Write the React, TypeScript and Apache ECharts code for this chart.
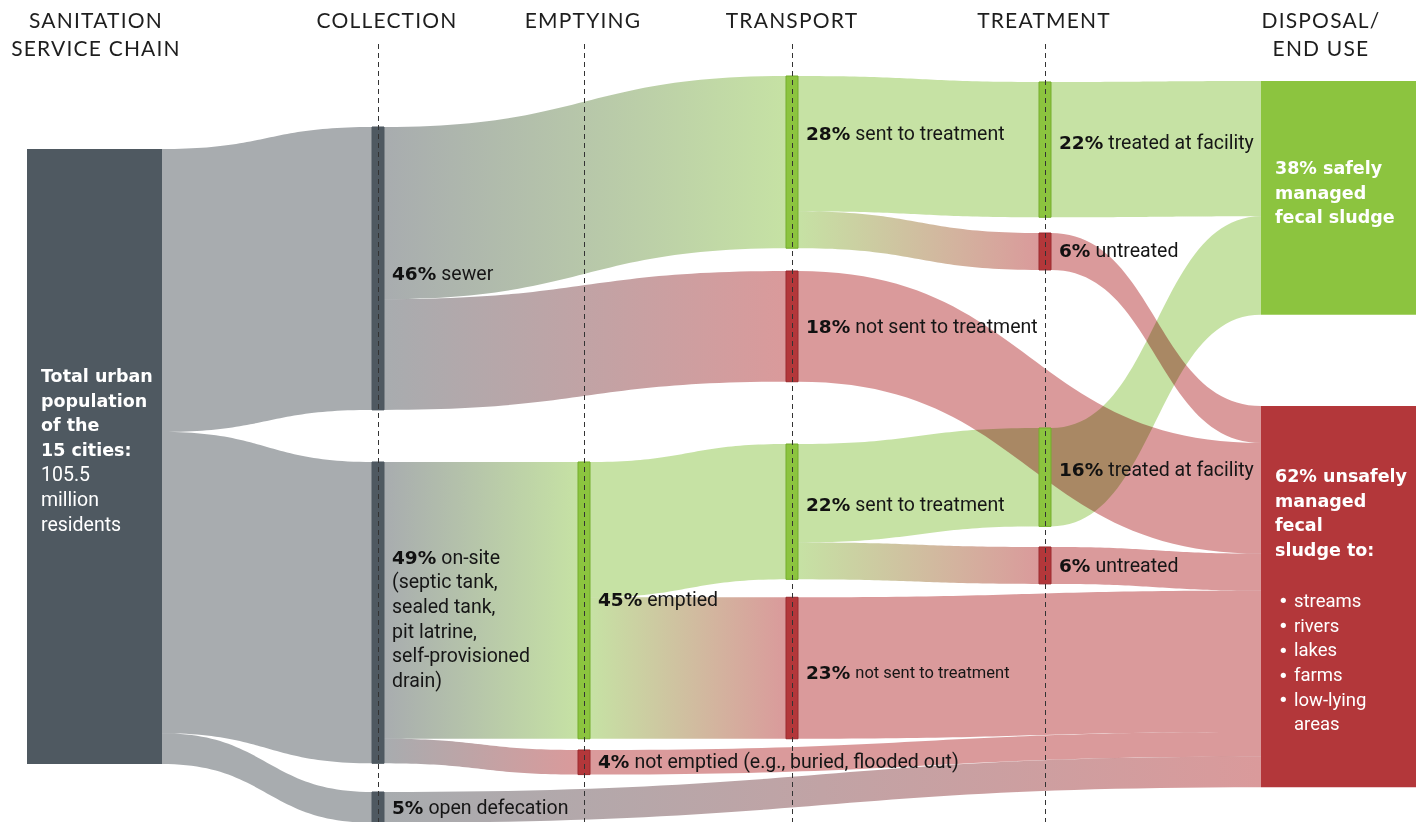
import React, { useEffect, useRef } from 'react';
import * as echarts from 'echarts';

// ---------------- data ----------------
const nodeIds = [
  'total', 'sewer', 'onsite', 'opendef',
  'emptied', 'notemptied',
  'sent28', 'notsent18', 'sent22', 'notsent23',
  'treated22', 'untreated6a', 'treated16', 'untreated6b',
  'safe', 'unsafe',
];
const nodeValues = [100, 46, 49, 5, 45, 4, 28, 18, 22, 23, 22, 6, 16, 6, 38, 62];
const nodeKinds = [
  'neutral', 'neutral', 'neutral', 'neutral',
  'good', 'bad',
  'good', 'bad', 'good', 'bad',
  'good', 'bad', 'good', 'bad',
  'good', 'bad',
];
const nodeStage = [0, 1, 1, 1, 2, 2, 3, 3, 3, 3, 4, 4, 4, 4, 5, 5];

const linkSources = [
  'total', 'total', 'total',
  'sewer', 'sewer', 'onsite', 'onsite', 'opendef',
  'emptied', 'emptied', 'notemptied',
  'sent28', 'sent28', 'notsent18', 'sent22', 'sent22', 'notsent23',
  'treated22', 'untreated6a', 'treated16', 'untreated6b',
];
const linkTargets = [
  'sewer', 'onsite', 'opendef',
  'sent28', 'notsent18', 'emptied', 'notemptied', 'unsafe',
  'sent22', 'notsent23', 'unsafe',
  'treated22', 'untreated6a', 'unsafe', 'treated16', 'untreated6b', 'unsafe',
  'safe', 'unsafe', 'safe', 'unsafe',
];
const linkValues = [46, 49, 5, 28, 18, 45, 4, 5, 22, 23, 4, 22, 6, 18, 16, 6, 23, 22, 6, 16, 6];

const stageHeaders = ['SANITATION\nSERVICE CHAIN', 'COLLECTION', 'EMPTYING', 'TRANSPORT', 'TREATMENT', 'DISPOSAL/\nEND USE'];

const labelBold = [
  'Total urban\npopulation\nof the\n15 cities:',
  '46%', '49%', '5%',
  '45%', '4%',
  '28%', '18%', '22%', '23%',
  '22%', '6%', '16%', '6%',
  '38% safely\nmanaged\nfecal sludge',
  '62% unsafely\nmanaged\nfecal\nsludge to:',
];
const labelRest = [
  '\n105.5\nmillion\nresidents',
  'sewer',
  'on-site\n(septic tank,\nsealed tank,\npit latrine,\nself-provisioned\ndrain)',
  'open defecation',
  'emptied',
  'not emptied (e.g., buried, flooded out)',
  'sent to treatment', 'not sent to treatment', 'sent to treatment', 'not sent to treatment',
  'treated at facility', 'untreated', 'treated at facility', 'untreated',
  '', '',
];
const outletList = ['streams', 'rivers', 'lakes', 'farms', 'low-lying', 'areas'];
const outletBullets = ['•', '•', '•', '•', '•', ''];

// ---------------- layout (positions / sizes / styles) ----------------
const W = 1423;
const H = 822;
const PX_PER_UNIT = 6.15;
const Y_MAX = H / PX_PER_UNIT;
const COL_X = [27, 372, 578, 786, 1039, 1261];
const COL_W = [135, 12, 12, 12, 12, 155];
const NODE_TOP = [24.23, 20.65, 75.12, 128.78, 75.12, 121.95, 12.36, 44.07, 72.2, 97.12, 13.33, 37.89, 69.59, 88.94, 13.17, 66.02];
const LABEL_Y = [61.14, 44.55, 90.57, 131.22, 97.4, 123.9, 21.63, 53.17, 82.11, 109.43, 23.09, 40.81, 76.42, 91.87, 27.32, 77.4];
const LABEL_REST_SIZE = [19.5, 19.5, 19.5, 19.5, 19.5, 19.5, 19.5, 19.5, 19.5, 16.5, 19.5, 19.5, 19.5, 19.5, 19.5, 19.5];
const OUTLET_Y = 97.72;
const HEADER_X = [96, 387, 583, 792, 1044, 1321];
const HEADER_Y = [33, 19, 19, 19, 19, 33];
const DASH_TOP = 44 / PX_PER_UNIT;
const LINE_H = 24.7;

const NODE_COLOR: Record<string, string> = { neutral: '#4f5961', good: '#8cc43f', bad: '#b3373a' };
const NODE_STROKE: Record<string, string> = { neutral: '#4f5961', good: '#75ad2d', bad: '#9a2a2e' };
const LINK_COLOR: Record<string, string> = { neutral: '#a8acaf', good: '#c6e2a4', bad: '#da9a9b' };

const BODY_FONT = 'Roboto, "Noto Sans", sans-serif';
const BOLD_FONT = '"DejaVu Sans", sans-serif';
const HEAD_FONT = 'Lato';

// ---------------- derived link geometry ----------------
const idx = (id: string) => nodeIds.indexOf(id);
const links = linkValues.map((v, i) => ({ s: idx(linkSources[i]), t: idx(linkTargets[i]), v }));
const outOffset: number[] = new Array(links.length).fill(0);
const inOffset: number[] = new Array(links.length).fill(0);
nodeIds.forEach((_, n) => {
  const outs = links.map((_, i) => i).filter((i) => links[i].s === n)
    .sort((a, b) => NODE_TOP[links[a].t] - NODE_TOP[links[b].t]);
  let acc = 0;
  outs.forEach((i) => { outOffset[i] = acc; acc += links[i].v; });
  const ins = links.map((_, i) => i).filter((i) => links[i].t === n)
    .sort((a, b) => NODE_TOP[links[a].s] - NODE_TOP[links[b].s]);
  acc = 0;
  ins.forEach((i) => { inOffset[i] = acc; acc += links[i].v; });
});

function bez(p0: number[], p1: number[], t: number) {
  const xm = (p0[0] + p1[0]) / 2;
  const u = 1 - t;
  const x = u * u * u * p0[0] + 3 * u * u * t * xm + 3 * u * t * t * xm + t * t * t * p1[0];
  const y = u * u * u * p0[1] + 3 * u * u * t * p0[1] + 3 * u * t * t * p1[1] + t * t * t * p1[1];
  return [x, y];
}

function wrapLines(s: string, tag: string) {
  return s.split('\n').map((l) => (l ? `{${tag}|${l}}` : '')).join('\n');
}

function buildOption() {
  const linkSeries = {
    type: 'custom',
    name: 'flows',
    coordinateSystem: 'cartesian2d',
    clip: false,
    z: 1,
    silent: true,
    data: linkValues.map((v, i) => [i, v]),
    renderItem: (params: any, api: any) => {
      const i = params.dataIndex;
      const l = links[i];
      const ss = nodeStage[l.s];
      const ts = nodeStage[l.t];
      const x1 = COL_X[ss] + COL_W[ss];
      const x2 = COL_X[ts];
      const a = NODE_TOP[l.s] + outOffset[i];
      const b = NODE_TOP[l.t] + inOffset[i];
      const p1t = api.coord([x1, a]);
      const p1b = api.coord([x1, a + l.v]);
      const p2t = api.coord([x2, b]);
      const p2b = api.coord([x2, b + l.v]);
      const N = 48;
      const pts: number[][] = [];
      for (let k = 0; k <= N; k++) pts.push(bez(p1t, p2t, k / N));
      for (let k = N; k >= 0; k--) pts.push(bez(p1b, p2b, k / N));
      const c1 = LINK_COLOR[nodeKinds[l.s]];
      const c2 = LINK_COLOR[nodeKinds[l.t]];
      return {
        type: 'polygon',
        shape: { points: pts },
        style: {
          fill: new echarts.graphic.LinearGradient(0, 0, 1, 0, [
            { offset: 0, color: c1 },
            { offset: 1, color: c2 },
          ]),
          blend: 'multiply',
        },
      };
    },
  };

  const nodeSeries = {
    type: 'custom',
    name: 'nodes',
    coordinateSystem: 'cartesian2d',
    clip: false,
    z: 2,
    silent: true,
    data: nodeValues.map((v, i) => [i, v]),
    renderItem: (params: any, api: any) => {
      const n = params.dataIndex;
      const st = nodeStage[n];
      const p0 = api.coord([COL_X[st], NODE_TOP[n]]);
      const p1 = api.coord([COL_X[st] + COL_W[st], NODE_TOP[n] + nodeValues[n]]);
      const thin = COL_W[st] < 40;
      return {
        type: 'rect',
        shape: { x: p0[0], y: p0[1], width: p1[0] - p0[0], height: p1[1] - p0[1] },
        style: {
          fill: NODE_COLOR[nodeKinds[n]],
          stroke: thin ? NODE_STROKE[nodeKinds[n]] : null,
          lineWidth: thin ? 1 : 0,
        },
      };
    },
  };

  const dashSeries = {
    type: 'custom',
    name: 'stages',
    coordinateSystem: 'cartesian2d',
    clip: false,
    z: 3,
    silent: true,
    data: [[1, 0], [2, 0], [3, 0], [4, 0]],
    renderItem: (params: any, api: any) => {
      const st = params.dataIndex + 1;
      const x = COL_X[st] + COL_W[st] / 2;
      const p0 = api.coord([x, DASH_TOP]);
      const p1 = api.coord([x, Y_MAX]);
      return {
        type: 'line',
        shape: { x1: Math.round(p0[0]) + 0.5, y1: p0[1], x2: Math.round(p0[0]) + 0.5, y2: p1[1] },
        style: { stroke: '#333333', lineWidth: 1, lineDash: [5, 4] },
      };
    },
  };

  const labelSeries = {
    type: 'custom',
    name: 'labels',
    coordinateSystem: 'cartesian2d',
    clip: false,
    z: 4,
    silent: true,
    data: nodeValues.map((v, i) => [i, v]),
    renderItem: (params: any, api: any) => {
      const n = params.dataIndex;
      const st = nodeStage[n];
      const big = COL_W[st] > 40;
      const x = big ? COL_X[st] + 14 : COL_X[st] + COL_W[st] + 8;
      const y = api.coord([x, LABEL_Y[n]])[1] - LINE_H / 2;
      const light = big;
      const text = wrapLines(labelBold[n], 'p') + wrapLines(labelRest[n], 't');
      const boldSize = big ? 17.5 : 18.5;
      const rich = {
        p: {
          fontFamily: BOLD_FONT, fontWeight: 'bold', fontSize: boldSize,
          fill: light ? '#ffffff' : '#111111', lineHeight: LINE_H, padding: [0, 5, 0, 0],
        },
        t: {
          fontFamily: BODY_FONT, fontWeight: 400, fontSize: LABEL_REST_SIZE[n],
          fill: light ? '#ffffff' : '#161616', lineHeight: LINE_H,
        },
      };
      const children: any[] = [{
        type: 'text',
        style: {
          text, x, y, align: 'left', verticalAlign: 'top', rich,
          fontFamily: BODY_FONT, fontSize: 19, fill: light ? '#fff' : '#161616', lineHeight: LINE_H,
        },
      }];
      if (nodeIds[n] === 'unsafe') {
        const by = api.coord([x, OUTLET_Y])[1] - LINE_H / 2;
        children.push({
          type: 'text',
          style: {
            text: outletBullets.join('\n'), x: x + 3, y: by, align: 'left', verticalAlign: 'top',
            fontFamily: BOLD_FONT, fontSize: 18, fill: '#ffffff', lineHeight: LINE_H,
          },
        });
        children.push({
          type: 'text',
          style: {
            text: outletList.join('\n'), x: x + 19, y: by, align: 'left', verticalAlign: 'top',
            fontFamily: BODY_FONT, fontSize: 18.5, fill: '#ffffff', lineHeight: LINE_H,
          },
        });
      }
      return { type: 'group', children };
    },
  };

  const headers = stageHeaders.map((h, i) => ({
    type: 'text',
    x: HEADER_X[i],
    y: HEADER_Y[i],
    silent: true,
    style: {
      text: h,
      align: 'center',
      verticalAlign: 'middle',
      fontFamily: HEAD_FONT,
      fontWeight: 400,
      fontSize: 21,
      lineHeight: 28,
      fill: '#1e1e1e',
    },
  }));

  return {
    animation: false,
    backgroundColor: '#ffffff',
    grid: { left: 0, right: 0, top: 0, bottom: 0 },
    xAxis: { type: 'value', min: 0, max: W, show: false },
    yAxis: { type: 'value', min: 0, max: Y_MAX, inverse: true, show: false },
    graphic: headers,
    series: [linkSeries, nodeSeries, dashSeries, labelSeries],
  };
}

const CSS = `
.chart-root svg path[fill^="url"] { mix-blend-mode: multiply; }
.chart-root svg text[style*="Lato"] { letter-spacing: 1.2px; }
`;

export default function App() {
  const ref = useRef<HTMLDivElement>(null);
  useEffect(() => {
    document.body.style.margin = '0';
    const chart = echarts.init(ref.current as HTMLDivElement, null, { renderer: 'svg' });
    chart.setOption(buildOption() as any);
    return () => chart.dispose();
  }, []);
  return (
    <div className="chart-root">
      <style>{CSS}</style>
      <div ref={ref} style={{ width: W, height: H }} />
    </div>
  );
}
